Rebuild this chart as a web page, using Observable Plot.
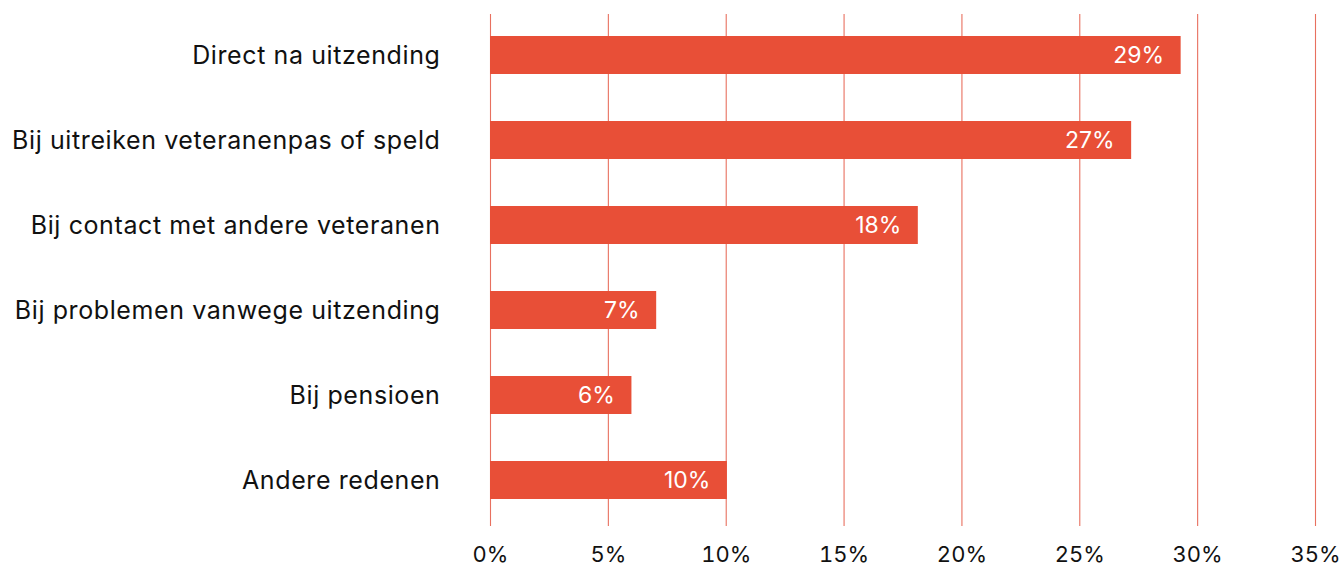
<!DOCTYPE html>
<html>
<head>
<meta charset="utf-8">
<script src="https://cdn.jsdelivr.net/npm/d3@7"></script>
<script src="https://cdn.jsdelivr.net/npm/@observablehq/plot@0.6"></script>
<style>
  html, body { margin: 0; padding: 0; background: #fff; }
  svg { display: block; }
</style>
</head>
<body>
<div id="chart"></div>
<script>
const categories = [
  "Direct na uitzending",
  "Bij uitreiken veteranenpas of speld",
  "Bij contact met andere veteranen",
  "Bij problemen vanwege uitzending",
  "Bij pensioen",
  "Andere redenen"
];
const values = [29.3, 27.2, 18.15, 7.05, 6.0, 10.05];
const xTicks = [0, 5, 10, 15, 20, 25, 30, 35];

const data = categories.map((c, i) => ({ category: c, value: values[i], label: Math.round(values[i]) + "%" }));

const barColor = "#E84F37";
const gridColor = "#E8705F";
const font = "Inter, 'Noto Sans', sans-serif";

const chart = Plot.plot({
  width: 1344,
  height: 567,
  marginLeft: 490,
  marginRight: 29,
  marginTop: 14,
  marginBottom: 41,
  style: { fontFamily: font, color: "#111" },
  x: { domain: [0, 35], ticks: xTicks },
  y: { domain: categories, paddingInner: 0.555, paddingOuter: 0.2775, align: 0.45 },
  marks: [
    Plot.gridX(xTicks, { stroke: gridColor, strokeOpacity: 1, strokeWidth: 1.1 }),
    Plot.barX(data, { x: "value", y: "category", fill: barColor }),
    Plot.text(data, { x: "value", y: "category", text: "label", dx: -17, textAnchor: "end", fill: "white", fontSize: 23 }),
    Plot.axisX(xTicks, { tickSize: 0, tickPadding: 20, fontSize: 22, tickFormat: d => d + "%", label: null, fill: "#111" }),
    Plot.axisY({ tickSize: 0, tickPadding: 50, fontSize: 25, label: null, fill: "#111" })
  ]
});
chart.querySelectorAll("g[aria-label='y-axis tick label'] text").forEach(t => t.style.letterSpacing = "0.6px");
document.getElementById("chart").appendChild(chart);
</script>
</body>
</html>
